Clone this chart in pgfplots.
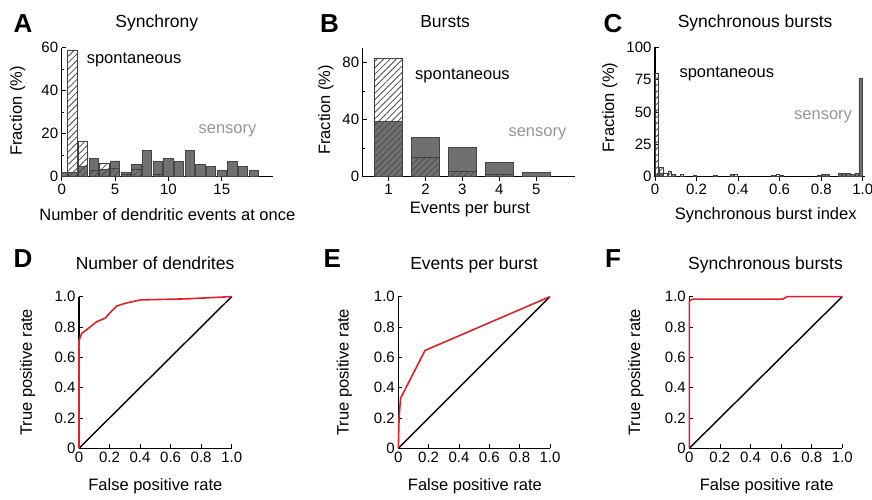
\documentclass[border=0pt]{standalone}
\usepackage{fontspec}
\setmainfont{Liberation Sans}
\usepackage{pgfplots}
\pgfplotsset{compat=1.18}
\usetikzlibrary{patterns.meta}

\definecolor{sens}{RGB}{112,112,112}
\definecolor{sensedge}{RGB}{70,70,70}
\definecolor{senstext}{RGB}{150,150,150}
\definecolor{rocred}{RGB}{222,32,40}

\newcommand{\ttl}{\fontsize{17.5}{17.5}\selectfont}
\newcommand{\lbl}{\fontsize{16.5}{16.5}\selectfont}
\newcommand{\tck}{\fontsize{15}{15}\selectfont}
\newcommand{\pnl}{\fontsize{26}{26}\selectfont\bfseries}

\pgfplotsset{
  panel/.style={
    scale only axis, anchor=south west,
    axis x line*=bottom, axis y line*=left,
    axis line style={black, line width=1.1pt},
    tick align=inside, major tick length=4pt, minor tick length=2.5pt,
    every tick/.style={black, line width=0.8pt},
    tick label style={font=\tck},
    /pgf/number format/assume math mode=true,
    label style={font=\lbl},
    title style={font=\ttl, anchor=base},
    xlabel style={anchor=base},
    ylabel style={anchor=base},
  },
  hist/.style={ybar, bar shift=0pt},
  sensbar/.style={bar shift=0pt, fill=sens, draw=sensedge, line width=0.6pt},
  spontbar/.style={bar shift=0pt, draw=black!75, line width=0.6pt, fill=none,
    pattern={Lines[angle=45,distance=4.5pt,line width=0.8pt]}, pattern color=black!70},
  rocaxis/.style={panel, width=152.7pt, height=151.7pt, xmin=0, xmax=1, ymin=0, ymax=1,
    clip=false,
    xtick={0,0.2,0.4,0.6,0.8,1}, xticklabels={0,0.2,0.4,0.6,0.8,1.0},
    ytick={0,0.2,0.4,0.6,0.8,1}, yticklabels={0,0.2,0.4,0.6,0.8,1.0},
    xlabel={False positive rate}, ylabel={True positive rate}},
}

\begin{document}
\begin{tikzpicture}

% A: synchrony histogram
\begin{axis}[panel, hist, at={(61.7pt,323.3pt)}, width=211.3pt, height=129pt,
  xmin=0, xmax=19.8, ymin=0, ymax=60, bar width=0.875,
  xtick={0,5,10,15}, ytick={0,20,40,60}, minor ytick={10,30,50},
  title={Synchrony}, title style={at={(axis description cs:0.45,1.110)}},
  xlabel={Number of dendritic events at once},
  xlabel style={at={(axis description cs:0.5,-0.336)}},
  ylabel={Fraction (\%)},
  ylabel style={at={(axis description cs:-0.188,0.509)}}]
\addplot[sensbar] coordinates {(0.18,2) (1,2) (2,5) (3,8.5) (4,3.5) (5,7.3) (6,1.9)
  (7,5.8) (8,12.4) (9,7) (10,8.5) (11,7) (12,12.4) (13,5.9) (14,4.7) (15,3.1)
  (16,7) (17,4.7) (18,3.1)};
\addplot[spontbar] coordinates {(1,59) (2,16.3) (3,3) (4,6.2) (5,4) (6,1) (7,3.6) (9,1)};
\node[anchor=base west, font=\lbl] at (axis cs:2.02,52.7) {spontaneous};
\node[anchor=base west, font=\lbl, text=senstext] at (axis cs:12.5,20.2) {sensory};
\end{axis}

% B: events per burst
\begin{axis}[panel, hist, at={(362.7pt,323.3pt)}, width=212.3pt, height=128.4pt,
  xmin=0.3, xmax=6.05, ymin=0, ymax=90, bar width=0.75,
  xtick={1,2,3,4,5}, ytick={0,40,80}, minor ytick={20,60},
  title={Bursts}, title style={at={(axis description cs:0.388,1.115)}},
  xlabel={Events per burst},
  xlabel style={at={(axis description cs:0.505,-0.285)}},
  ylabel={Fraction (\%)},
  ylabel style={at={(axis description cs:-0.154,0.519)}}]
\addplot[sensbar] coordinates {(1,38.7) (2,27.8) (3,20.4) (4,10.2) (5,3.0)};
\addplot[spontbar] coordinates {(1,83.3) (2,13.4) (3,3.5) (4,1.9)};
\node[anchor=base west, font=\lbl] at (axis cs:1.627,68.3) {spontaneous};
\node[anchor=base west, font=\lbl, text=senstext] at (axis cs:4.154,28.0) {sensory};
\end{axis}

% C: synchronous burst index
\begin{axis}[panel, hist, at={(655pt,323.3pt)}, width=209.8pt, height=129.5pt,
  xmin=0, xmax=1.01, ymin=0, ymax=100, bar width=0.016,
  xtick={0,0.2,0.4,0.6,0.8,1}, xticklabels={0,0.2,0.4,0.6,0.8,1.0},
  ytick={0,25,50,75,100},
  title={Synchronous bursts}, title style={at={(axis description cs:0.477,1.106)}},
  xlabel={Synchronous burst index},
  xlabel style={at={(axis description cs:0.528,-0.334)}},
  ylabel={Fraction (\%)},
  ylabel style={at={(axis description cs:-0.195,0.534)}}]
\addplot[sensbar] coordinates {(0.01,2) (0.03,3) (0.81,1.5) (0.83,2) (0.89,3) (0.91,2.5)
  (0.93,2.5) (0.95,2) (0.97,2.5) (0.99,76)};
\addplot[spontbar] coordinates {(0.01,80) (0.03,7) (0.05,3) (0.07,4) (0.09,2) (0.13,1.5)
  (0.19,1) (0.29,1) (0.37,1.5) (0.39,1.5) (0.57,1) (0.59,1.5) (0.61,1) (0.79,1) (0.81,1.5)};
\node[anchor=base west, font=\lbl] at (axis cs:0.101,76.8) {spontaneous};
\node[anchor=base west, font=\lbl, text=senstext] at (axis cs:0.653,43.8) {sensory};
\end{axis}

% D: ROC number of dendrites
\begin{axis}[rocaxis, at={(79pt,51.7pt)},
  title={Number of dendrites}, title style={at={(axis description cs:0.498,1.142)}},
  xlabel style={at={(axis description cs:0.5,-0.275)}},
  ylabel style={at={(axis description cs:-0.308,0.5)}}]
\addplot[black, line width=1.4pt] coordinates {(0,0) (1,1)};
\addplot[rocred, line width=1.6pt] coordinates {(0,0) (0,0.6) (0,0.71) (0.018,0.758)
  (0.06,0.79) (0.116,0.835) (0.17,0.857) (0.2,0.89) (0.247,0.938) (0.3,0.955)
  (0.4,0.978) (0.7,0.985) (1,1)};
\end{axis}

% E: ROC events per burst
\begin{axis}[rocaxis, at={(398.3pt,51.7pt)}, width=151.7pt,
  title={Events per burst}, title style={at={(axis description cs:0.499,1.142)}},
  xlabel style={at={(axis description cs:0.505,-0.275)}},
  ylabel style={at={(axis description cs:-0.328,0.5)}}]
\addplot[black, line width=1.4pt] coordinates {(0,0) (1,1)};
\addplot[rocred, line width=1.6pt] coordinates {(0,0) (0.005,0.2) (0.015,0.33)
  (0.176,0.645) (1,1)};
\end{axis}

% F: ROC synchronous bursts
\begin{axis}[rocaxis, at={(689.3pt,51.7pt)}, width=153pt,
  title={Synchronous bursts}, title style={at={(axis description cs:0.498,1.142)}},
  xlabel style={at={(axis description cs:0.506,-0.275)}},
  ylabel style={at={(axis description cs:-0.322,0.5)}}]
\addplot[black, line width=1.4pt] coordinates {(0,0) (1,1)};
\addplot[rocred, line width=1.6pt] coordinates {(0,0) (0,0.97) (0.02,0.983) (0.61,0.983)
  (0.64,1) (1,1)};
\end{axis}

% panel letters
\node[anchor=base west, font=\pnl] at (10pt,467pt) {A};
\node[anchor=base west, font=\pnl] at (316.7pt,467pt) {B};
\node[anchor=base west, font=\pnl] at (600pt,467pt) {C};
\node[anchor=base west, font=\pnl] at (10pt,232pt) {D};
\node[anchor=base west, font=\pnl] at (320pt,232pt) {E};
\node[anchor=base west, font=\pnl] at (601.7pt,232pt) {F};

\pgfresetboundingbox
\useasboundingbox (0,0) rectangle (872pt,500pt);
\end{tikzpicture}
\end{document}
